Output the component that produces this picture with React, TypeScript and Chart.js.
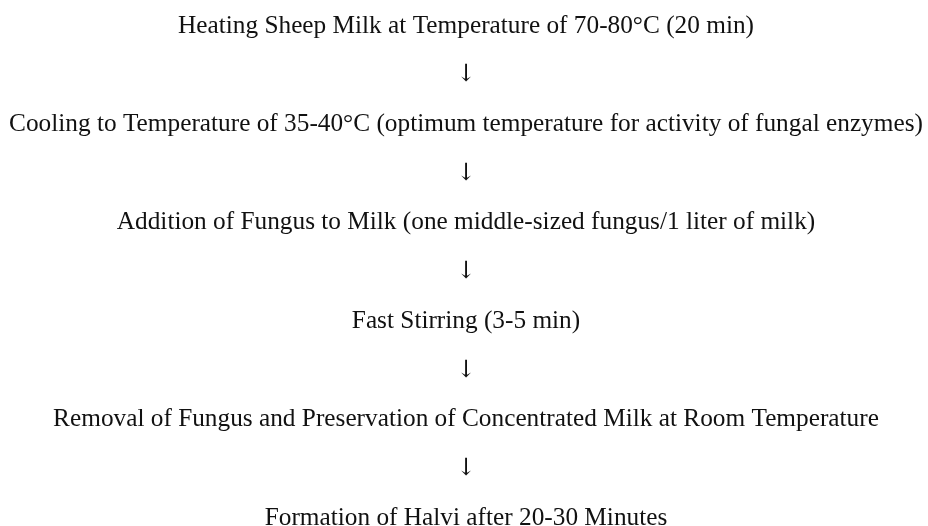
import React, { useEffect, useRef } from "react";
import { Chart, registerables } from "chart.js";

Chart.register(...registerables);

const steps: string[] = [
  "Heating Sheep Milk at Temperature of 70-80°C (20 min)",
  "Cooling to Temperature of 35-40°C (optimum temperature for activity of fungal enzymes)",
  "Addition of Fungus to Milk (one middle-sized fungus/1 liter of milk)",
  "Fast Stirring (3-5 min)",
  "Removal of Fungus and Preservation of Concentrated Milk at Room Temperature",
  "Formation of Halvi after 20-30 Minutes",
];
const arrow = "↓";

const rows: string[] = [];
steps.forEach((s, i) => {
  rows.push(s);
  if (i < steps.length - 1) rows.push(arrow);
});

const textPlugin = {
  id: "flowText",
  afterDatasetsDraw(chart: any) {
    const ctx = chart.ctx;
    const meta = chart.getDatasetMeta(0);
    ctx.save();
    ctx.fillStyle = "#111111";
    ctx.textAlign = "center";
    ctx.textBaseline = "middle";
    meta.data.forEach((el: any, i: number) => {
      const label = rows[i];
      ctx.font = label === arrow ? "24px 'DejaVu Serif'" : "25.3px 'Liberation Serif'";
      ctx.fillText(label, el.x, el.y + 1);
    });
    ctx.restore();
  },
};

export default function App() {
  const ref = useRef<HTMLCanvasElement>(null);
  useEffect(() => {
    document.body.style.margin = "0";
    if (!ref.current) return;
    const chart = new Chart(ref.current, {
      type: "scatter",
      data: {
        datasets: [
          {
            data: rows.map((r) => ({ x: 0.5, y: r })) as any,
            pointRadius: 0,
            showLine: false,
          },
        ],
      },
      options: {
        animation: false,
        responsive: false,
        layout: { padding: { top: 25, bottom: 9, left: 4, right: 0 } },
        plugins: { legend: { display: false }, tooltip: { enabled: false } },
        scales: {
          x: { type: "linear", min: 0, max: 1, display: false },
          y: { type: "category", labels: rows, offset: false, display: false },
        },
      },
      plugins: [textPlugin],
    });
    return () => chart.destroy();
  }, []);
  return (
    <div style={{ width: 928, height: 526, background: "#fff" }}>
      <canvas ref={ref} width={928} height={526} />
    </div>
  );
}
